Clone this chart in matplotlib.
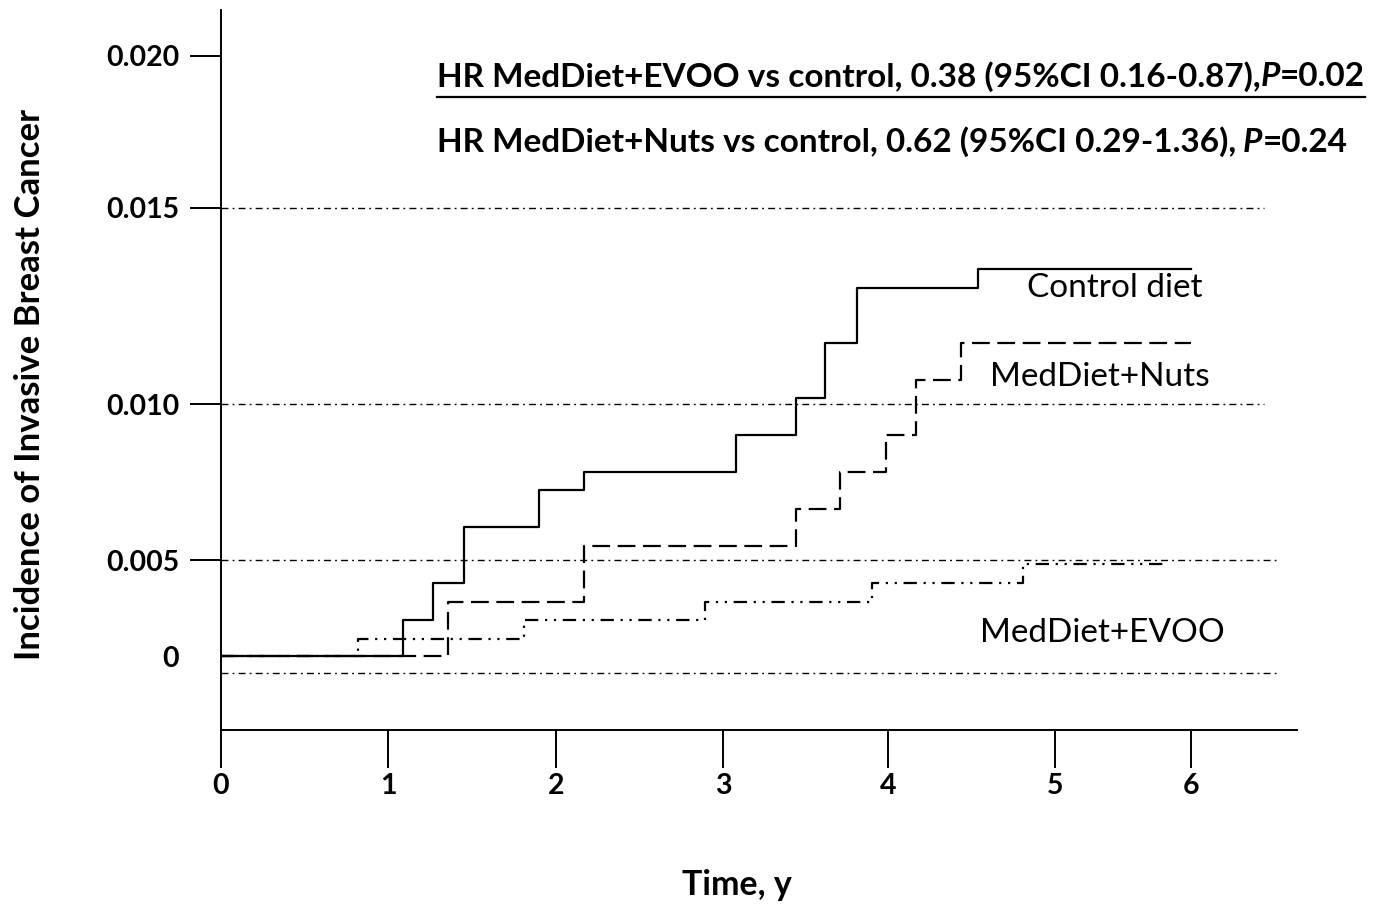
import numpy as np
import matplotlib
matplotlib.use("Agg")
import matplotlib.pyplot as plt
from matplotlib.lines import Line2D

# ---- data ----
years = [0, 1, 2, 3, 4, 5, 6]
inc_ticks = [0, 0.005, 0.010, 0.015, 0.020]
inc_labels = ["0", "0.005", "0.010", "0.015", "0.020"]

ctrl_t = [0, 1.09, 1.27, 1.45, 1.90, 2.17, 3.08, 3.44, 3.62, 3.81, 4.54, 6.0]
ctrl_y = [0, 0.00188, 0.0038, 0.00606, 0.00724, 0.00782, 0.0090, 0.01015,
          0.01156, 0.01296, 0.01344, 0.01344]
nuts_t = [0, 1.36, 2.17, 3.44, 3.71, 3.99, 4.17, 4.44, 6.0]
nuts_y = [0, 0.00281, 0.00545, 0.00663, 0.00782, 0.0090, 0.01061, 0.01156, 0.01156]
evoo_t = [0, 0.82, 1.81, 2.89, 3.90, 4.81, 5.81]
evoo_y = [0, 0.00089, 0.00188, 0.00281, 0.0038, 0.00479, 0.00479]

ref_y = [0.015, 0.010, 0.005, -0.0009]
ref_xend = [6.54, 6.54, 6.65, 6.65]

line1 = [("HR MedDiet+EVOO vs control, 0.38 (95%CI 0.16-0.87),", "normal"),
         ("P", "italic"), ("=0.02", "normal")]
line2 = [("HR MedDiet+Nuts vs control, 0.62 (95%CI 0.29-1.36),", "normal"),
         ("P", "italic"), ("=0.24", "normal")]

FONT = "Lato"
W, H = 1379, 907

# the original axes are hand drawn: tick spacing is not uniform,
# so use a piecewise-linear scale through the tick positions (pixels)
xk = [-10] + years + [16]
xp = [221 - 1670, 221, 388, 556, 723, 888, 1055, 1191, 1191 + 1360]
yk = [-0.05] + inc_ticks + [0.07]
yp = [-(656 + 960), -656, -560, -404, -208, -56, -(56 - 1520)]


def fx(v):
    return np.interp(v, xk, xp)


def ix(p):
    return np.interp(p, xp, xk)


def fy(v):
    return np.interp(v, yk, yp)


def iy(p):
    return np.interp(p, yp, yk)


fig = plt.figure(figsize=(W / 100, H / 100), dpi=100)
ax = fig.add_axes([221 / W, 1 - 730 / H, (1297 - 221) / W, (730 - 10) / H])
ax.set_xscale("function", functions=(fx, ix))
ax.set_yscale("function", functions=(fy, iy))
ax.set_xlim(0, float(ix(1297)))
ax.set_ylim(float(iy(-730)), float(iy(-10)))

for s in ["top", "right"]:
    ax.spines[s].set_visible(False)
for s in ["left", "bottom"]:
    ax.spines[s].set_linewidth(1.4)

# reference lines
for yv, xe in zip(ref_y, ref_xend):
    ln, = ax.plot([0, xe], [yv, yv], color="black", lw=1.0)
    ln.set_dashes((5, 3, 1.3, 3))

c, = ax.step(ctrl_t, ctrl_y, where="post", color="black", lw=1.6)
n, = ax.step(nuts_t, nuts_y, where="post", color="black", lw=1.6)
n.set_dashes((8, 3.4))
e, = ax.step(evoo_t, evoo_y, where="post", color="black", lw=1.6)
e.set_dashes((6, 3, 1, 3, 1, 3))

ax.set_xticks(years)
ax.set_xticklabels([str(v) for v in years])
ax.set_yticks(inc_ticks)
ax.set_yticklabels(inc_labels)
ax.minorticks_off()
ax.tick_params(axis="x", direction="out", length=27, width=1.4, pad=4)
ax.tick_params(axis="y", direction="out", length=22, width=1.4, pad=8)
ax.yaxis.get_major_ticks()[0].tick1line.set_visible(False)
for lab in ax.get_xticklabels() + ax.get_yticklabels():
    lab.set_fontfamily(FONT)
    lab.set_fontweight("bold")
    lab.set_fontsize(20.5)

# curve labels
ax.text(5.44, 0.01296, "Control diet", fontsize=24, family=FONT, ha="center", va="center")
ax.text(5.33, 0.01069, "MedDiet+Nuts", fontsize=24, family=FONT, ha="center", va="center")
ax.text(5.35, 0.0012, "MedDiet+EVOO", fontsize=24, family=FONT, ha="center", va="center")

fig.text(30 / W, 1 - 385 / H, "Incidence of Invasive Breast Cancer", rotation=90,
         fontsize=25, fontweight="bold", family=FONT, ha="center", va="center")
fig.text(737 / W, 1 - 885 / H, "Time, y", fontsize=24.5, fontweight="bold",
         family=FONT, ha="center", va="center")

renderer = fig.canvas.get_renderer()


def draw_runs(x, y, parts, size, gap=0):
    x0 = x
    for i, (s, style) in enumerate(parts):
        t = fig.text(x, y, s, fontsize=size, fontweight="bold", fontstyle=style,
                     family=FONT, va="center", ha="left")
        bb = t.get_window_extent(renderer)
        x = bb.x1 / W + (gap / W if i == 0 else 0)
    return x0, x


xa, xb = draw_runs(437 / W, 1 - 77 / H, line1, 24)
fig.add_artist(Line2D([xa, xb], [1 - 97 / H, 1 - 97 / H], color="black", lw=1.6,
                      transform=fig.transFigure))
draw_runs(437 / W, 1 - 142 / H, line2, 24, gap=7)

fig.savefig("out.png", dpi=100)
